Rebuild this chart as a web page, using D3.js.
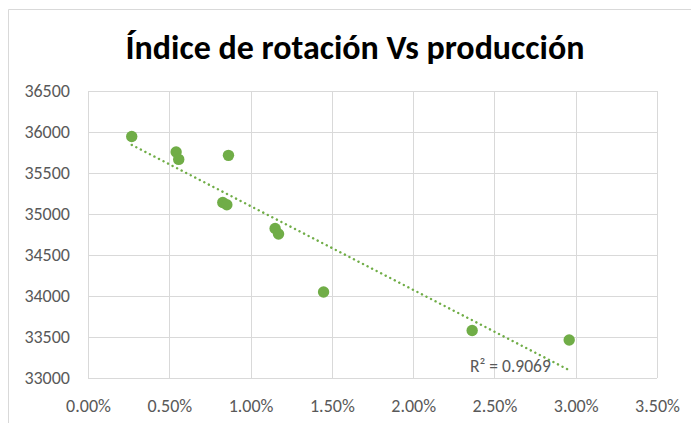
<!DOCTYPE html>
<html><head><meta charset="utf-8">
<script src="https://cdn.jsdelivr.net/npm/d3@7"></script>
<style>body{margin:0;background:#fff;} svg{display:block;}</style>
</head><body>
<script>
const title = "Índice de rotación Vs producción";
const xValues = [0.00269,0.00542,0.00558,0.00864,0.00829,0.00854,0.01151,0.01172,0.01449,0.02363,0.02960];
const yValues = [35946,35756,35666,35715,35141,35113,34824,34756,34049,33580,33463];
const xTicks = [0,0.005,0.01,0.015,0.02,0.025,0.03,0.035];
const yTicks = [33000,33500,34000,34500,35000,35500,36000,36500];
const r2Label = "R² = 0.9069";

const W=691,H=423;
const m={l:88,r:657,t:91,b:378};
const green="#70ad47", grid="#d9d9d9", txt="#595959";
const font="Carlito, Calibri, Lato, 'Open Sans', sans-serif";

const svg=d3.select("body").append("svg").attr("width",W).attr("height",H);
svg.append("rect").attr("width",W).attr("height",H).attr("fill","#fff");
svg.append("path").attr("d",`M8.5,${H} V9.5 H${W}`).attr("fill","none").attr("stroke","#d9d9d9").attr("stroke-width",1);

const x=d3.scaleLinear().domain([0,0.035]).range([m.l,m.r]);
const y=d3.scaleLinear().domain([33000,36500]).range([m.b,m.t]);

const g=svg.append("g");
g.selectAll(".vg").data(xTicks).join("line")
 .attr("x1",d=>Math.round(x(d))+0.5).attr("x2",d=>Math.round(x(d))+0.5)
 .attr("y1",m.t).attr("y2",m.b).attr("stroke",grid).attr("stroke-width",1);
g.selectAll(".hg").data(yTicks).join("line")
 .attr("y1",d=>Math.round(y(d))+0.5).attr("y2",d=>Math.round(y(d))+0.5)
 .attr("x1",m.l).attr("x2",m.r).attr("stroke",grid).attr("stroke-width",1);

const xAxis=svg.append("g").attr("transform",`translate(0,${m.b})`)
 .call(d3.axisBottom(x).tickValues(xTicks).tickFormat(d3.format(".2%")).tickSize(0).tickPadding(21));
xAxis.select(".domain").remove();
xAxis.selectAll("text").attr("fill",txt).style("font-family",font).style("font-size","18px");
const yAxis=svg.append("g").attr("transform",`translate(${m.l},0)`)
 .call(d3.axisLeft(y).tickValues(yTicks).tickFormat(d3.format("d")).tickSize(0).tickPadding(18));
yAxis.select(".domain").remove();
yAxis.selectAll("text").attr("fill",txt).style("font-family",font).style("font-size","18px");

const n=xValues.length;
const mx=d3.mean(xValues), my=d3.mean(yValues);
let sxy=0,sxx=0;
for(let i=0;i<n;i++){sxy+=(xValues[i]-mx)*(yValues[i]-my);sxx+=(xValues[i]-mx)**2;}
const slope=sxy/sxx, icpt=my-slope*mx;
const x0=d3.min(xValues), x1=d3.max(xValues);
svg.append("line").attr("x1",x(x0)).attr("y1",y(icpt+slope*x0))
 .attr("x2",x(x1)).attr("y2",y(icpt+slope*x1))
 .attr("stroke",green).attr("stroke-width",2.4).attr("stroke-dasharray","0.1 5").attr("stroke-linecap","round");

svg.selectAll(".pt").data(xValues.map((v,i)=>[v,yValues[i]])).join("circle")
 .attr("cx",d=>x(d[0])).attr("cy",d=>y(d[1])).attr("r",5.7).attr("fill",green);

svg.append("text").attr("x",470).attr("y",372).text(r2Label)
 .attr("fill",txt).style("font-family",font).style("font-size","17.5px");

svg.append("text").attr("x",355).attr("y",59).attr("text-anchor","middle").text(title)
 .attr("fill","#000").style("font-family",font).style("font-weight","bold").style("font-size","34px");
</script>
</body></html>
